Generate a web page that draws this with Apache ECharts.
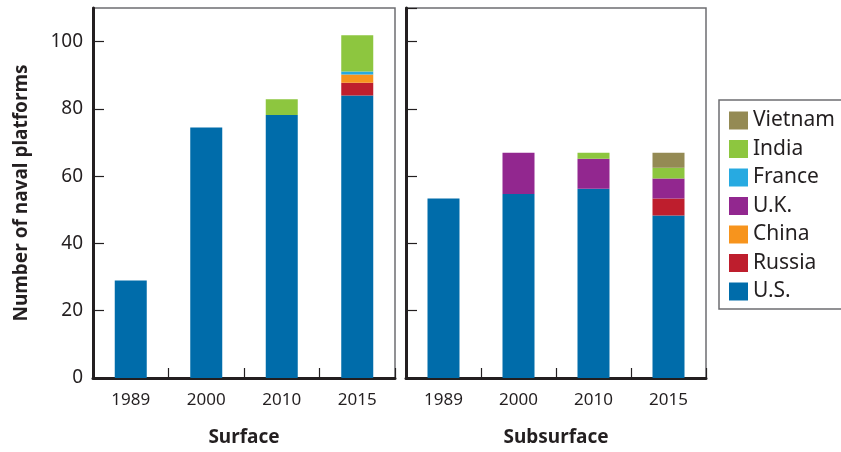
<!DOCTYPE html>
<html>
<head>
<meta charset="utf-8">
<script src="https://cdn.jsdelivr.net/npm/echarts@6/dist/echarts.min.js"></script>
<style>html,body{margin:0;padding:0;background:#fff}#c{width:841px;height:452px}</style>
</head>
<body>
<div id="c"></div>
<script>
var categories = ['1989', '2000', '2010', '2015'];
var yTicks = [0, 20, 40, 60, 80, 100];
var countries = ['U.S.', 'Russia', 'China', 'France', 'U.K.', 'India', 'Vietnam'];
var legendOrder = ['Vietnam', 'India', 'France', 'U.K.', 'China', 'Russia', 'U.S.'];
var colors = ['#006CAA', '#BE1E2D', '#F7941D', '#27AAE1', '#92278F', '#8DC63F', '#948A54'];

var surfaceUS = [29, 74.5, 78.2, 84];
var surfaceRussia = [0, 0, 0, 3.8];
var surfaceChina = [0, 0, 0, 2.4];
var surfaceFrance = [0, 0, 0, 0.9];
var surfaceUK = [0, 0, 0, 0];
var surfaceIndia = [0, 0, 4.7, 10.8];
var surfaceVietnam = [0, 0, 0, 0];

var subsurfaceUS = [53.4, 54.7, 56.3, 48.3];
var subsurfaceRussia = [0, 0, 0, 5.1];
var subsurfaceChina = [0, 0, 0, 0];
var subsurfaceFrance = [0, 0, 0, 0];
var subsurfaceUK = [0, 12.3, 8.9, 5.9];
var subsurfaceIndia = [0, 0, 1.8, 3.2];
var subsurfaceVietnam = [0, 0, 0, 4.5];

var surface = [surfaceUS, surfaceRussia, surfaceChina, surfaceFrance, surfaceUK, surfaceIndia, surfaceVietnam];
var subsurface = [subsurfaceUS, subsurfaceRussia, subsurfaceChina, subsurfaceFrance, subsurfaceUK, subsurfaceIndia, subsurfaceVietnam];

var FONT = 'Noto Sans';
var dark = '#231F20';

function xAxis(idx, title) {
  return {
    type: 'category', gridIndex: idx, data: categories,
    axisLine: {show: true, lineStyle: {color: dark, width: 3}},
    axisTick: {show: true, inside: true, length: 10, lineStyle: {color: dark, width: 1.2}},
    axisLabel: {color: dark, fontFamily: FONT, fontSize: 17, margin: 14},
    name: title, nameLocation: 'middle', nameGap: 50,
    nameTextStyle: {color: dark, fontFamily: FONT, fontSize: 19, fontWeight: 'bold'}
  };
}
function yAxis(idx, showLabels) {
  var a = {
    type: 'value', gridIndex: idx, min: 0, max: 110, interval: 20,
    splitLine: {show: false},
    axisLine: {show: true, lineStyle: {color: dark, width: 3}},
    axisTick: {show: true, inside: true, length: 11, lineStyle: {color: dark, width: 1.2}},
    axisLabel: {show: showLabels, color: dark, fontFamily: FONT, fontSize: 19, margin: 10, showMaxLabel: false}
  };
  if (showLabels) {
    a.name = 'Number of naval platforms';
    a.nameLocation = 'middle';
    a.nameGap = 62;
    a.nameTextStyle = {color: dark, fontFamily: FONT, fontSize: 19, fontWeight: 'bold'};
  }
  return a;
}

var series = [];
countries.forEach(function (c, i) {
  series.push({name: c, type: 'bar', xAxisIndex: 0, yAxisIndex: 0, stack: 'surf', barWidth: 32,
    data: surface[i], itemStyle: {color: colors[i]}, emphasis: {disabled: true}});
  series.push({name: c, type: 'bar', xAxisIndex: 1, yAxisIndex: 1, stack: 'sub', barWidth: 32,
    data: subsurface[i], itemStyle: {color: colors[i]}, emphasis: {disabled: true}});
});

var chart = echarts.init(document.getElementById('c'));
chart.setOption({
  animation: false,
  grid: [
    {left: 93, right: 446, top: 8, bottom: 71, show: true, borderColor: '#6d6e71', borderWidth: 1.5},
    {left: 406, right: 135, top: 8, bottom: 71, show: true, borderColor: '#6d6e71', borderWidth: 1.5}
  ],
  xAxis: [xAxis(0, 'Surface'), xAxis(1, 'Subsurface')],
  yAxis: [yAxis(0, true), yAxis(1, false)],
  legend: {
    data: legendOrder, orient: 'vertical', left: 719, top: 100,
    itemWidth: 19, itemHeight: 18, itemGap: 7.5,
    icon: 'rect',
    borderColor: '#6d6e71', borderWidth: 1.5, padding: [10, 8, 7, 10],
    textStyle: {color: dark, fontFamily: FONT, fontSize: 21, lineHeight: 20}
  },
  series: series
});
</script>
</body>
</html>
